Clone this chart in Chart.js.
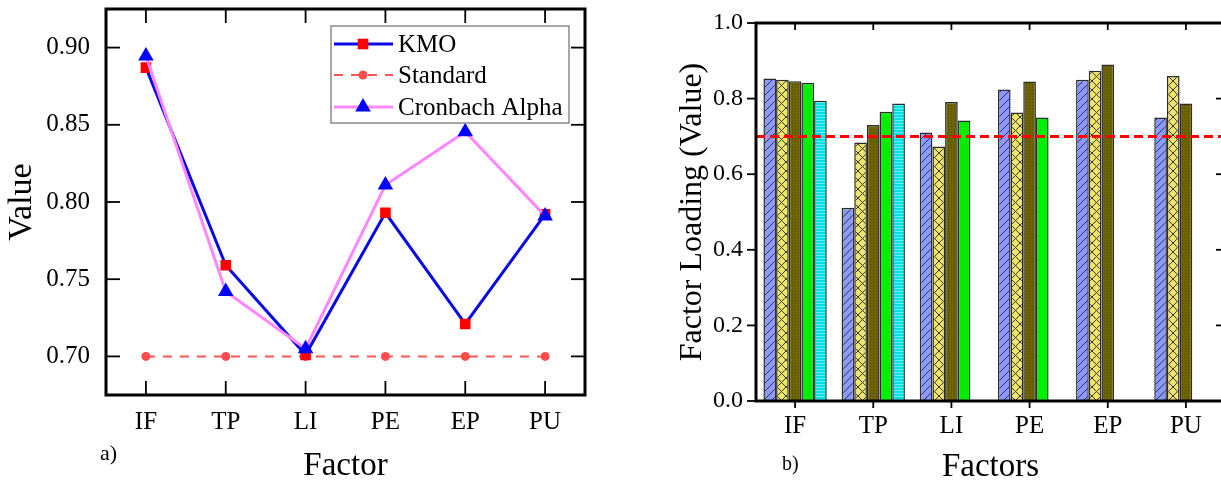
<!DOCTYPE html>
<html>
<head>
<meta charset="utf-8">
<script src="https://cdn.jsdelivr.net/npm/chart.js@4.4.0/dist/chart.umd.min.js"></script>
<style>
html, body { margin: 0; padding: 0; background: #fff; overflow: hidden; width: 1221px; height: 485px; }
.box { position: absolute; top: 0; height: 485px; }
#wrapA { left: 0; width: 610px; }
#wrapB { left: 660px; width: 580px; }
.tag { position: absolute; font-family: "Liberation Serif", serif; color: #000; line-height: 1; }
</style>
</head>
<body>
<div id="wrapA" class="box"><canvas id="chartA"></canvas></div>
<div id="wrapB" class="box"><canvas id="chartB"></canvas></div>
<div class="tag" style="left:100px;top:442px;font-size:22px">a)</div>
<div class="tag" style="left:782px;top:453px;font-size:20px">b)</div>
<script>
// categories
const factors = ['IF', 'TP', 'LI', 'PE', 'EP', 'PU'];

// chart a) values
const kmo = [0.887, 0.759, 0.701, 0.793, 0.721, 0.792];
const standard = [0.70, 0.70, 0.70, 0.70, 0.70, 0.70];
const cronbach = [0.8945, 0.742, 0.705, 0.811, 0.8455, 0.791];
const valueTicks = [0.70, 0.75, 0.80, 0.85, 0.90];

// chart b) factor loadings, one array per item (null = no bar)
const load1 = [0.853, 0.511, 0.710, 0.824, 0.850, 0.750];
const load2 = [0.850, 0.684, 0.673, 0.763, 0.874, 0.860];
const load3 = [0.846, 0.730, 0.791, 0.845, 0.890, 0.787];
const load4 = [0.842, 0.765, 0.742, 0.750, null, null];
const load5 = [0.794, 0.787, null, null, null, null];
const loadTicks = [0, 0.2, 0.4, 0.6, 0.8, 1.0];
const threshold = 0.70;

const serif = '"Liberation Serif", "Times New Roman", serif';
Chart.defaults.font.family = serif;
Chart.defaults.color = '#000';

function makePattern(size, draw) {
    const c = document.createElement('canvas');
    c.width = size; c.height = size;
    const g = c.getContext('2d');
    draw(g, size);
    return g.createPattern(c, 'repeat');
}

const hatchBlue = makePattern(8, (g, s) => {
    g.fillStyle = '#8c98fb'; g.fillRect(0, 0, s, s);
    g.strokeStyle = '#2a2f66'; g.lineWidth = 1;
    g.beginPath();
    g.moveTo(0, s); g.lineTo(s, 0);
    g.moveTo(-1, 1); g.lineTo(1, -1);
    g.moveTo(s - 1, s + 1); g.lineTo(s + 1, s - 1);
    g.stroke();
});
const hatchYellow = makePattern(9, (g, s) => {
    g.fillStyle = '#f0e56c'; g.fillRect(0, 0, s, s);
    g.strokeStyle = '#3b3820'; g.lineWidth = 1;
    g.beginPath();
    g.moveTo(0, 0); g.lineTo(s, s);
    g.moveTo(0, s); g.lineTo(s, 0);
    g.stroke();
});
const dotsOlive = makePattern(3, (g, s) => {
    g.fillStyle = '#6e6500'; g.fillRect(0, 0, s, s);
    g.fillStyle = '#4f4800'; g.fillRect(0, 0, 1, 1);
});
const gridCyan = makePattern(3, (g, s) => {
    g.fillStyle = '#00dfe6'; g.fillRect(0, 0, s, s);
    g.fillStyle = '#5ff3f3'; g.fillRect(0, 0, s, 1);
});

function drawTick(ctx, x1, y1, x2, y2) {
    ctx.beginPath(); ctx.moveTo(x1, y1); ctx.lineTo(x2, y2); ctx.stroke();
}

function noPad(s) {
    s.paddingTop = 0; s.paddingBottom = 0; s.paddingLeft = 0; s.paddingRight = 0;
}

// frame with inward ticks on all four sides
const frameA = {
    id: 'frameA',
    afterDatasetsDraw(chart) {
        const { ctx, chartArea: a, scales: { x, y } } = chart;
        ctx.save();
        ctx.strokeStyle = '#000';
        ctx.lineWidth = 1.8;
        const t = 14;
        x.ticks.forEach((_, i) => {
            const px = x.getPixelForTick(i);
            drawTick(ctx, px, a.bottom, px, a.bottom - t);
            drawTick(ctx, px, a.top, px, a.top + t);
        });
        y.ticks.forEach(tk => {
            const py = y.getPixelForValue(tk.value);
            drawTick(ctx, a.left, py, a.left + t, py);
            drawTick(ctx, a.right, py, a.right - t, py);
        });
        ctx.lineWidth = 3;
        ctx.strokeRect(a.left, a.top, a.right - a.left, a.bottom - a.top);
        ctx.restore();
    },
    afterDraw(chart) {
        const ctx = chart.ctx;
        const bx = 331, by = 26, bw = 238, bh = 97;
        const rows = [44, 75, 107];
        ctx.save();
        ctx.fillStyle = '#fff'; ctx.fillRect(bx, by, bw, bh);
        ctx.strokeStyle = '#8a8a8a'; ctx.lineWidth = 1.5; ctx.strokeRect(bx, by, bw, bh);
        chart.data.datasets.forEach((ds, i) => {
            const yy = rows[i];
            ctx.strokeStyle = ds.borderColor;
            ctx.lineWidth = ds.borderWidth;
            ctx.setLineDash(ds.borderDash || []);
            drawTick(ctx, bx + 3, yy, bx + 62, yy);
            ctx.setLineDash([]);
            ctx.fillStyle = ds.pointBackgroundColor;
            Chart.helpers.drawPoint(ctx, { pointStyle: ds.pointStyle, radius: ds.pointRadius, rotation: 0, borderWidth: 0 }, bx + 32, yy);
            ctx.fillStyle = '#000';
            ctx.font = '25px ' + serif;
            ctx.textBaseline = 'middle';
            ctx.fillText(ds.label, bx + 67, yy + 1);
        });
        ctx.restore();
    }
};

new Chart(document.getElementById('chartA'), {
    type: 'line',
    data: {
        labels: factors,
        datasets: [
            {
                label: 'KMO', data: kmo, order: 1,
                borderColor: '#0a0ae6', borderWidth: 3,
                pointStyle: 'rect', pointRadius: 7.5, pointBackgroundColor: '#ff0000', pointBorderWidth: 0
            },
            {
                label: 'Standard', data: standard, order: 2,
                borderColor: '#ff5555', borderWidth: 2, borderDash: [9, 8],
                pointStyle: 'circle', pointRadius: 4.5, pointBackgroundColor: '#ff4d4d', pointBorderWidth: 0
            },
            {
                label: 'Cronbach Alpha', data: cronbach, order: 0,
                borderColor: '#ff88ff', borderWidth: 3,
                pointStyle: 'triangle', pointRadius: 9, pointBackgroundColor: '#0000ff', pointBorderWidth: 0
            }
        ]
    },
    options: {
        responsive: true,
        maintainAspectRatio: false,
        animation: false,
        layout: { padding: { top: 9, right: 25, left: 0, bottom: 0 } },
        plugins: { legend: { display: false }, tooltip: { enabled: false } },
        scales: {
            x: {
                offset: true,
                grid: { display: false, drawTicks: false },
                border: { display: false },
                ticks: { padding: 12, font: { size: 25 } },
                title: { display: true, text: 'Factor', font: { size: 33, lineHeight: 1 }, padding: { top: 0, bottom: 2 } },
                afterFit(s) { s.height = 90; noPad(s); }
            },
            y: {
                min: 0.675,
                max: 0.925,
                grid: { display: false, drawTicks: false },
                border: { display: false },
                afterBuildTicks(s) { s.ticks = valueTicks.map(v => ({ value: v })); },
                ticks: { padding: 16, font: { size: 25 }, callback: v => v.toFixed(2) },
                title: { display: true, text: 'Value', font: { size: 34, lineHeight: 1 }, padding: { top: 5, bottom: 0 } },
                afterFit(s) { s.width = 106; noPad(s); }
            }
        }
    },
    plugins: [frameA]
});

// axes lines, ticks and the 0.7 threshold
const frameB = {
    id: 'frameB',
    afterDatasetsDraw(chart) {
        const { ctx, chartArea: a, scales: { x, y } } = chart;
        ctx.save();
        ctx.strokeStyle = '#000';
        ctx.lineWidth = 1.8;
        x.ticks.forEach((_, i) => {
            const px = x.getPixelForTick(i);
            drawTick(ctx, px, a.bottom, px, a.bottom + 7);
            drawTick(ctx, px, a.top, px, a.top + 7);
        });
        y.ticks.forEach(tk => {
            const py = y.getPixelForValue(tk.value);
            drawTick(ctx, a.left, py, a.left - 9, py);
            drawTick(ctx, a.right, py, a.right - 9, py);
        });
        const ty = y.getPixelForValue(threshold);
        ctx.strokeStyle = '#ff0000';
        ctx.lineWidth = 3;
        ctx.setLineDash([9, 5]);
        drawTick(ctx, a.left, ty, a.right, ty);
        ctx.setLineDash([]);
        ctx.strokeStyle = '#000';
        ctx.lineWidth = 3;
        ctx.strokeRect(a.left, a.top, a.right - a.left, a.bottom - a.top);
        ctx.restore();
    }
};

const barStyle = { borderColor: '#2b2b2b', borderWidth: 1.5, barPercentage: 1, categoryPercentage: 0.81 };

new Chart(document.getElementById('chartB'), {
    type: 'bar',
    data: {
        labels: factors,
        datasets: [
            { label: 'Item 1', data: load1, backgroundColor: hatchBlue, ...barStyle },
            { label: 'Item 2', data: load2, backgroundColor: hatchYellow, ...barStyle },
            { label: 'Item 3', data: load3, backgroundColor: dotsOlive, ...barStyle },
            { label: 'Item 4', data: load4, backgroundColor: '#00ee00', ...barStyle },
            { label: 'Item 5', data: load5, backgroundColor: gridCyan, ...barStyle }
        ]
    },
    options: {
        responsive: true,
        maintainAspectRatio: false,
        animation: false,
        layout: { padding: { top: 23, right: 15, left: 0, bottom: 0 } },
        plugins: { legend: { display: false }, tooltip: { enabled: false } },
        scales: {
            x: {
                grid: { display: false, drawTicks: false },
                border: { display: false },
                ticks: { padding: 10, font: { size: 25 } },
                title: { display: true, text: 'Factors', font: { size: 33, lineHeight: 1 }, padding: { top: 0, bottom: 1 } },
                afterFit(s) { s.height = 84; noPad(s); }
            },
            y: {
                min: 0,
                max: 1,
                grid: { display: false, drawTicks: false },
                border: { display: false },
                afterBuildTicks(s) { s.ticks = loadTicks.map(v => ({ value: v })); },
                ticks: { padding: 13, font: { size: 24 }, callback: v => v.toFixed(1) },
                title: { display: true, text: 'Factor Loading (Value)', font: { size: 32, lineHeight: 1 }, padding: { top: 17, bottom: 0 } },
                afterFit(s) { s.width = 96; noPad(s); }
            }
        }
    },
    plugins: [frameB]
});
</script>
</body>
</html>
